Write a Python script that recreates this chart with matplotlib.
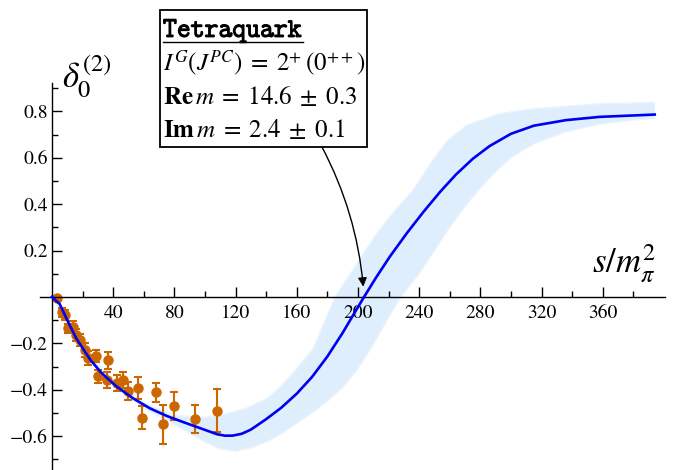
import matplotlib
matplotlib.use("Agg")
import matplotlib.pyplot as plt
import matplotlib.patheffects as pe
from matplotlib.patches import Rectangle
from matplotlib.lines import Line2D
from matplotlib.ticker import FixedLocator

plt.rcParams['font.family'] = 'STIXGeneral'
plt.rcParams['mathtext.fontset'] = 'stix'

# puntos experimentales
s_dat = [3.5, 6.3, 8.5, 10.7, 13.9, 15.7, 18.3, 21.6, 23.7, 28.8, 29.9, 36.8,
         35.8, 42.3, 46.2, 49.5, 56.4, 58.6, 68.0, 72.7, 79.7, 93.5, 107.6]
d_dat = [-0.006, -0.066, -0.078, -0.135, -0.128, -0.164, -0.185, -0.228, -0.264,
         -0.254, -0.343, -0.274, -0.358, -0.372, -0.358, -0.405, -0.391, -0.520,
         -0.411, -0.549, -0.470, -0.526, -0.491]
e_dat = [0.01, 0.02, 0.02, 0.02, 0.025, 0.025, 0.025, 0.03, 0.03, 0.027, 0.03,
         0.036, 0.035, 0.035, 0.035, 0.04, 0.047, 0.05, 0.042, 0.083, 0.059,
         0.062, 0.093]

# curva central
s_fit = [0, 5, 10, 16, 25, 32, 42, 53, 64, 75, 86, 97, 108, 113, 118, 124, 130,
         140, 150, 160, 170, 180, 190, 197, 204, 212, 221, 232, 243, 254, 264,
         275, 286, 300, 315, 336, 358, 394]
d_fit = [0, -0.03, -0.10, -0.18, -0.27, -0.325, -0.385, -0.437, -0.48, -0.513,
         -0.54, -0.566, -0.592, -0.598, -0.598, -0.59, -0.572, -0.527, -0.477,
         -0.417, -0.345, -0.257, -0.155, -0.077, 0.0, 0.085, 0.175, 0.275, 0.368,
         0.455, 0.527, 0.595, 0.65, 0.703, 0.738, 0.762, 0.776, 0.786]

# banda de incertidumbre
s_up = [0, 10, 20, 40, 60, 80, 100, 113, 127, 140, 149, 160, 171, 185, 200, 213,
        224, 236, 248, 258, 271, 293, 315, 358, 394]
d_up = [0, -0.095, -0.21, -0.36, -0.455, -0.51, -0.52, -0.505, -0.48, -0.44,
        -0.39, -0.31, -0.22, 0.0, 0.15, 0.28, 0.37, 0.46, 0.58, 0.67, 0.74, 0.79,
        0.811, 0.833, 0.838]
s_lo = [0, 10, 20, 40, 60, 80, 100, 110, 120, 130, 140, 150, 160, 170, 180, 190,
        200, 210, 220, 228, 240, 250, 260, 270, 280, 290, 300, 315, 335, 358,
        380, 394]
d_lo = [0, -0.105, -0.23, -0.385, -0.48, -0.55, -0.625, -0.655, -0.665, -0.65,
        -0.625, -0.59, -0.545, -0.50, -0.45, -0.39, -0.31, -0.205, -0.09, 0.0,
        0.1, 0.2, 0.3, 0.39, 0.47, 0.54, 0.6, 0.66, 0.71, 0.745, 0.762, 0.77]

W, H = 678, 470
fig = plt.figure(figsize=(W / 100, H / 100), dpi=100)
ax = fig.add_axes([40 / W, 0, 625 / W, 387 / H])
ax.set_xlim(-7.8, 400.7)
ax.set_ylim(-0.746, 0.922)

# banda
ax.fill(s_up + s_lo[::-1], d_up + d_lo[::-1], color='#dfeefc', lw=0, zorder=1)
ax.plot(s_up, d_up, color='#eaf4fd', lw=1, zorder=1)
ax.plot(s_lo, d_lo, color='#eaf4fd', lw=1, zorder=1)

# datos
ax.errorbar(s_dat, d_dat, yerr=e_dat, fmt='o', color='#cc6600', ms=6.5,
            elinewidth=1.5, capsize=3, capthick=1.5, zorder=2)

# ajuste
ax.plot(s_fit, d_fit, color='#0000f0', lw=1.9, zorder=3)

# ejes tipo Mathematica
for k in ['top', 'right']:
    ax.spines[k].set_visible(False)
ax.spines['left'].set_position(('data', 0))
ax.spines['bottom'].set_position(('data', 0))
for k in ['left', 'bottom']:
    ax.spines[k].set_linewidth(1.0)

ax.xaxis.set_major_locator(FixedLocator(range(40, 361, 40)))
ax.xaxis.set_minor_locator(FixedLocator(range(20, 381, 40)))
ax.yaxis.set_major_locator(FixedLocator([-0.6, -0.4, -0.2, 0.2, 0.4, 0.6, 0.8]))
ax.yaxis.set_minor_locator(FixedLocator([-0.7, -0.5, -0.3, -0.1, 0.1, 0.3, 0.5, 0.7, 0.9]))
ax.set_xticklabels([str(v) for v in range(40, 361, 40)])
ax.set_yticklabels(['\u22120.6', '\u22120.4', '\u22120.2', '0.2', '0.4', '0.6', '0.8'])
ax.tick_params(which='both', direction='in', width=1.0, labelsize=14)
ax.tick_params(which='major', length=7)
ax.tick_params(which='minor', length=4.5)
ax.tick_params(axis='x', pad=6)
ax.tick_params(axis='y', pad=3)

# etiquetas de ejes
fig.text(62 / W, 1 - 88 / H, r'$\delta_0^{(2)}$', fontsize=25, va='baseline')
fig.text(592 / W, 1 - 272 / H, r'$s/m_\pi^2$', fontsize=25, va='baseline')

# recuadro
fig.patches.append(Rectangle((160 / W, 1 - 147 / H), 207 / W, 137 / H,
                             transform=fig.transFigure, facecolor='white',
                             edgecolor='black', lw=1.3, zorder=5))
t1 = fig.text(163 / W, 1 - 37 / H, r'$\mathtt{Tetraquark}$', fontsize=19,
              va='baseline', zorder=6,
              path_effects=[pe.withStroke(linewidth=0.9, foreground='black')])
fig.text(163 / W, 1 - 71 / H, r'$I^G(J^{PC})\;=\;2^{+}\,(0^{++})$', fontsize=18,
         va='baseline', zorder=6)
fig.text(163 / W, 1 - 104 / H, r'$\mathbf{Re}\,m\;=\;14.6\;\pm\;0.3$', fontsize=18,
         va='baseline', zorder=6)
fig.text(163 / W, 1 - 137 / H, r'$\mathbf{Im}\,m\;=\;2.4\;\pm\;0.1$', fontsize=18,
         va='baseline', zorder=6)

fig.canvas.draw()
bb = t1.get_window_extent()
fig.add_artist(Line2D([bb.x0 / W, bb.x1 / W], [1 - 42 / H, 1 - 42 / H],
                      color='black', lw=1.0, transform=fig.transFigure, zorder=6))

# flecha
ax.annotate('', xy=(203.5, 0.044), xycoords='data',
            xytext=(322, H - 147), textcoords='figure pixels',
            arrowprops=dict(arrowstyle='-|>', color='black', lw=1.0,
                            mutation_scale=13, shrinkA=0, shrinkB=0,
                            connectionstyle='arc3,rad=-0.1'), zorder=4)

fig.savefig('out.png', dpi=100)
